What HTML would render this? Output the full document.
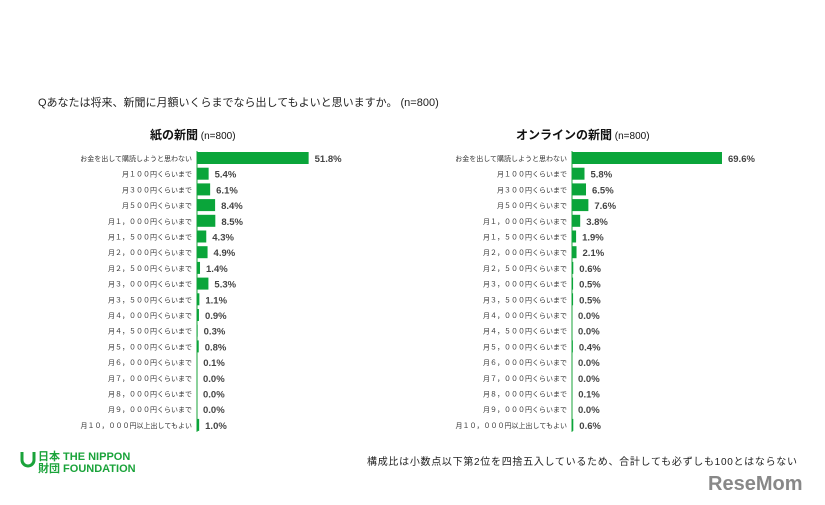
<!DOCTYPE html>
<html><head><meta charset="utf-8"><style>
body{margin:0;width:825px;height:500px;background:#fff;overflow:hidden;font-family:"Liberation Sans","Noto Sans CJK JP",sans-serif;}
svg text{font-family:"Liberation Sans","Noto Sans CJK JP",sans-serif;}
</style></head><body>
<svg id="c" width="825" height="500">
<text x="38" y="106" font-size="11" fill="#222">Qあなたは将来、新聞に月額いくらまでなら出してもよいと思いますか。 (n=800)</text>
<text x="150" y="139" font-size="12" font-weight="bold" fill="#111">紙の新聞<tspan font-weight="normal" font-size="10"> (n=800)</tspan></text>
<text x="516" y="139" font-size="12" font-weight="bold" fill="#111">オンラインの新聞<tspan font-weight="normal" font-size="10"> (n=800)</tspan></text>
<g id="left"></g><g id="right"></g>
<g>
<path d="M22 452 v8 a6 6 0 0 0 12 0 v-8" stroke="#1aa33a" stroke-width="3" fill="none"/>
<text x="38" y="460" font-size="11" font-weight="bold" fill="#1aa33a">日本 THE NIPPON</text>
<text x="38" y="472" font-size="11" font-weight="bold" fill="#1aa33a">財団 FOUNDATION</text>
</g>
<text x="367" y="465" font-size="10" fill="#222" textLength="430">構成比は小数点以下第2位を四捨五入しているため、合計しても必ずしも100とはならない</text>
<text x="708" y="490" font-size="20" font-weight="bold" fill="#888">ReseMom</text>
</svg>
<script>
const categories=["お金を出して購読しようと思わない","月１００円くらいまで","月３００円くらいまで","月５００円くらいまで","月１，０００円くらいまで","月１，５００円くらいまで","月２，０００円くらいまで","月２，５００円くらいまで","月３，０００円くらいまで","月３，５００円くらいまで","月４，０００円くらいまで","月４，５００円くらいまで","月５，０００円くらいまで","月６，０００円くらいまで","月７，０００円くらいまで","月８，０００円くらいまで","月９，０００円くらいまで","月１０，０００円以上出してもよい"];
const paperValues=[51.8,5.4,6.1,8.4,8.5,4.3,4.9,1.4,5.3,1.1,0.9,0.3,0.8,0.1,0.0,0.0,0.0,1.0];
const onlineValues=[69.6,5.8,6.5,7.6,3.8,1.9,2.1,0.6,0.5,0.5,0.0,0.0,0.4,0.0,0.0,0.1,0.0,0.6];
const NS="http://www.w3.org/2000/svg";
function draw(gid,vals,axisX,prefix){
  const g=document.getElementById(gid);
  const xs=v=>v*2.155;
  const ys=i=>158+i*15.7;
  const ax=document.createElementNS(NS,'line');
  
  
  ax.setAttribute('x1',axisX);ax.setAttribute('x2',axisX);ax.setAttribute('y1',ys(0)-7);ax.setAttribute('y2',ys(vals.length-1)+7);
  ax.setAttribute('stroke','#1aa33a');ax.setAttribute('stroke-width','1');g.appendChild(ax);
  vals.forEach((v,i)=>{
    const y=ys(i);
    const t=document.createElementNS(NS,'text');
    
    
    t.setAttribute('x',axisX-5);t.setAttribute('y',y+3);t.setAttribute('text-anchor','end');t.setAttribute('font-size','7');t.setAttribute('fill','#333');
    t.textContent=categories[i];g.appendChild(t);
    const r=document.createElementNS(NS,'rect');
    
    
    r.setAttribute('x',axisX);r.setAttribute('y',y-6);r.setAttribute('width',Math.max(xs(v),0));r.setAttribute('height',12);r.setAttribute('fill','#0aa53a');
    g.appendChild(r);
    const l=document.createElementNS(NS,'text');
    
    
    l.setAttribute('x',axisX+xs(v)+6);l.setAttribute('y',y+4);l.setAttribute('font-size','9.5');l.setAttribute('font-weight','bold');l.setAttribute('fill','#444');
    l.textContent=v.toFixed(1)+'%';g.appendChild(l);
  });
}
draw('left',paperValues,197,'paper');
draw('right',onlineValues,572,'online');
</script>
</body></html>
